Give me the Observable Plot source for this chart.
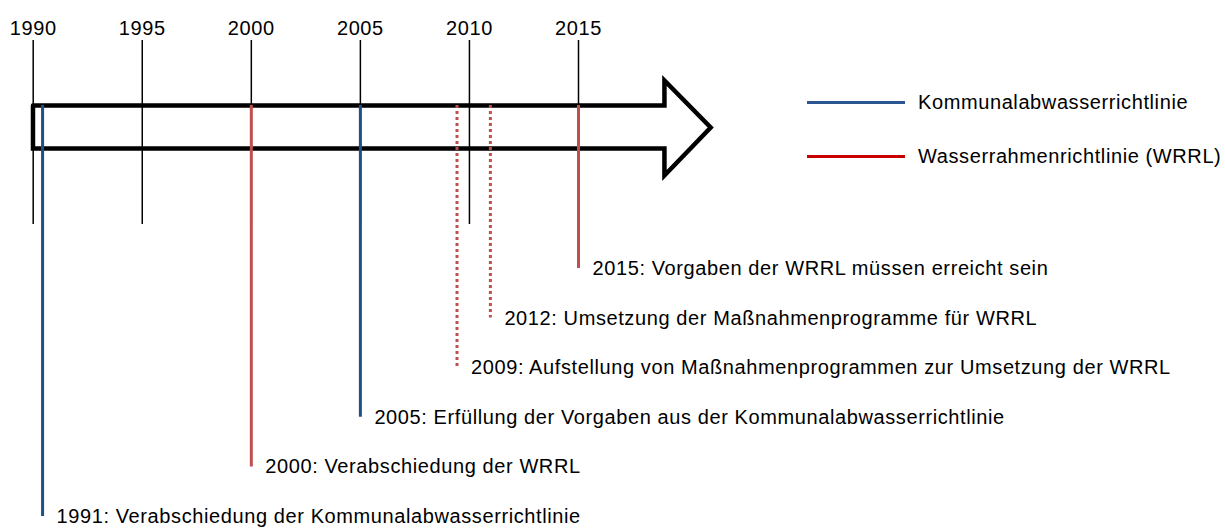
<!DOCTYPE html>
<html>
<head>
<meta charset="utf-8">
<script src="https://cdn.jsdelivr.net/npm/d3@7"></script>
<script src="https://cdn.jsdelivr.net/npm/@observablehq/plot@0.6"></script>
<style>
  html, body { margin: 0; padding: 0; background: #fff; }
  #wrap { position: relative; width: 1225px; height: 531px; font-family: "Liberation Sans", Arial, sans-serif; }
  .legend { position: absolute; left: 807px; top: 0; font-size: 20px; color: #000; letter-spacing: 0.6px; }
  .legend .item { position: absolute; left: 0; white-space: nowrap; display: flex; align-items: center; }
  .legend .sw { display: inline-block; width: 98px; height: 3px; margin-right: 13px; }
</style>
</head>
<body>
<div id="wrap"></div>
<script>
// ---- data ----
const tickYears = [1990, 1995, 2000, 2005, 2010, 2015];
const eventYears = [1991, 2000, 2005, 2009, 2012, 2015];
// horizontal position at which each event line is drawn
const eventPositions = [1990.43, 2000, 2005, 2009.43, 2010.96, 2015];
const eventTexts = [
  "Verabschiedung der Kommunalabwasserrichtlinie",
  "Verabschiedung der WRRL",
  "Erfüllung der Vorgaben aus der Kommunalabwasserrichtlinie",
  "Aufstellung von Maßnahmenprogrammen zur Umsetzung der WRRL",
  "Umsetzung der Maßnahmenprogramme für WRRL",
  "Vorgaben der WRRL müssen erreicht sein"
];
const seriesNames = ["Kommunalabwasserrichtlinie", "Wasserrahmenrichtlinie (WRRL)"];
const eventSeries = [
  "Kommunalabwasserrichtlinie",
  "Wasserrahmenrichtlinie (WRRL)",
  "Kommunalabwasserrichtlinie",
  "Wasserrahmenrichtlinie (WRRL)",
  "Wasserrahmenrichtlinie (WRRL)",
  "Wasserrahmenrichtlinie (WRRL)"
];
const eventKinds = ["Meilenstein", "Meilenstein", "Meilenstein", "Programm", "Programm", "Meilenstein"];

// ---- build table ----
const events = eventYears.map((year, i) => ({
  year, pos: eventPositions[i], text: eventTexts[i], series: eventSeries[i], kind: eventKinds[i]
}));
const order = events.slice().sort((a, b) => b.year - a.year);
order.forEach((d, i) => d.lane = i + 1);

// ---- layout (in lane units of the y scale) ----
const laneAxis = -1.843;          // arrow centre
const bodyTop = -2.286, bodyBottom = -1.419;
const headTop = -2.790, headBottom = -0.875;
const headStart = 2018.94, tip = 2021.06, arrowStart = 1989.99;
const tickTop = -3.597, tickBottom = 0.113, labelLane = -3.839;

const blue = "#1F4E89", red = "#C0504D";

const arrow = [
  [arrowStart, bodyTop], [headStart, bodyTop], [headStart, headTop],
  [tip, laneAxis], [headStart, headBottom], [headStart, bodyBottom],
  [arrowStart, bodyBottom], [arrowStart, bodyTop]
];

const chart = Plot.plot({
  width: 1225,
  height: 531,
  margin: 0,
  style: { fontFamily: "'Liberation Sans', Arial, sans-serif", background: "transparent", overflow: "visible", letterSpacing: "0.6px" },
  x: { domain: [1990, 2015], range: [32.7, 578], axis: null },
  y: { domain: [1, 6], range: [268, 516], axis: null },
  color: { domain: seriesNames, range: [blue, red] },
  marks: [
    Plot.ruleX(tickYears, { x: d => d, y1: () => tickTop, y2: () => tickBottom, stroke: "#000", strokeWidth: 1.5 }),
    Plot.text(tickYears, { x: d => d, y: () => labelLane, text: d => String(d), fontSize: 20, fill: "#000" }),
    Plot.line(arrow, { x: d => d[0], y: d => d[1], stroke: "#000", strokeWidth: 4.5, strokeLinejoin: "miter", strokeMiterlimit: 10 }),
    Plot.ruleX(events.filter(d => d.kind === "Meilenstein"), {
      x: "pos", y1: () => bodyTop, y2: "lane", stroke: "series", strokeWidth: 3
    }),
    Plot.ruleX(events.filter(d => d.kind === "Programm"), {
      x: "pos", y1: () => bodyTop, y2: "lane", stroke: "series", strokeWidth: 3, strokeDasharray: "3,3"
    }),
    Plot.text(events, {
      x: "pos", y: "lane", text: d => `${d.year}: ${d.text}`, textAnchor: "start", dx: 14,
      fontSize: 20, fill: "#000"
    })
  ]
});

const wrap = document.getElementById("wrap");
wrap.appendChild(chart);
chart.style.position = "absolute";
chart.style.left = "0";
chart.style.top = "0";

// legend
const legend = document.createElement("div");
legend.className = "legend";
const legendColors = ["#2A5591", "#C80000"];
const legendTops = [102, 156];
seriesNames.forEach((name, i) => {
  const item = document.createElement("div");
  item.className = "item";
  item.style.top = (legendTops[i] - 12) + "px";
  item.style.height = "24px";
  const sw = document.createElement("span");
  sw.className = "sw";
  sw.style.background = legendColors[i];
  const lab = document.createElement("span");
  lab.textContent = name;
  item.appendChild(sw);
  item.appendChild(lab);
  legend.appendChild(item);
});
wrap.appendChild(legend);
</script>
</body>
</html>
